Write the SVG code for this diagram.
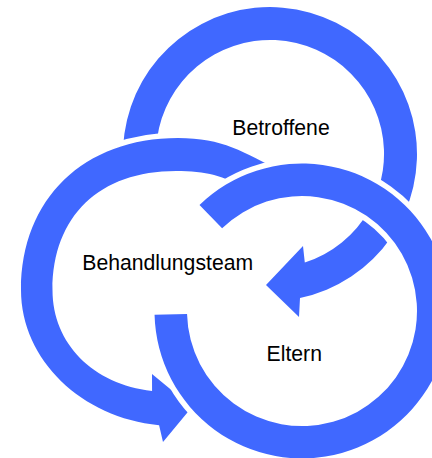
<svg xmlns="http://www.w3.org/2000/svg" width="432" height="458" viewBox="0 0 432 458">
<style>
.ring{fill:#4068FF;stroke:#ffffff;stroke-width:11;stroke-linejoin:round;paint-order:stroke}
.lbl{font-family:"Liberation Sans",Arial,sans-serif;font-size:21.2px;fill:#000000}
</style>
<rect width="432" height="458" fill="#ffffff"/>
<g id="connectors">
<path id="arrow-betroffene" class="ring" d="M 123.2 161.7 A 147 147 0 1 1 300 298 L 299 317 L 266 285 L 303 246 L 304.8 262.5 A 114 114 0 1 0 156.2 160 Z"/>
<path id="arrow-behandlungsteam" class="ring" d="M 283 172 C 242.8 151.9 223 138 178 138 C 83.8 138 21 198.8 21 290 C 21 359.8 81.72 417.74 159.1 425.2 L 163 442 L 192 407 L 152 374 L 152.07 391 C 93.32 384.17 52.5 343.87 52.5 290 C 52.5 216.2 99.4 171 176 171 C 206 171 224.7 175.4 245 190 Z"/>
<path id="arc-eltern" class="ring" d="M 199.5 204.9 A 147.5 147.5 0 1 1 154.55 314.86 L 187.04 314 A 115 115 0 1 0 222.1 228.3 Z"/>
</g>
<g id="node-betroffene"><text class="lbl" x="232.3" y="135">Betroffene</text></g>
<g id="node-behandlungsteam"><text class="lbl" x="82.3" y="270">Behandlungsteam</text></g>
<g id="node-eltern"><text class="lbl" x="266.6" y="361">Eltern</text></g>
</svg>
